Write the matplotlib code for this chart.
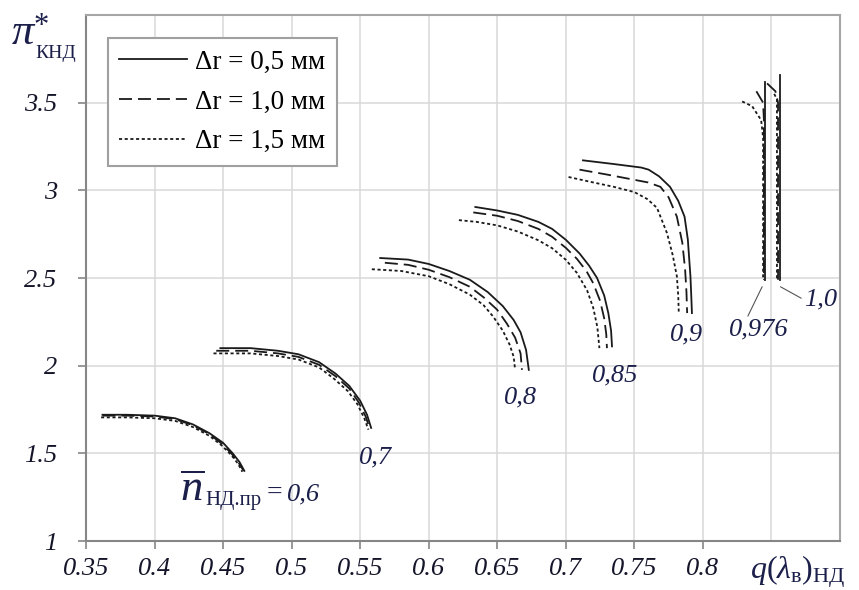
import matplotlib
matplotlib.use('Agg')
import matplotlib.pyplot as plt

plt.rcParams['mathtext.fontset'] = 'custom'
plt.rcParams['mathtext.rm'] = 'Liberation Serif'
plt.rcParams['mathtext.it'] = 'Liberation Serif:italic'
plt.rcParams['mathtext.bf'] = 'Liberation Serif:bold'

# Δr legend labels and speed labels (n НД.пр)
dr_labels = ['Δr = 0,5 мм', 'Δr = 1,0 мм', 'Δr = 1,5 мм']
n_labels = ['0,6', '0,7', '0,8', '0,85', '0,9', '0,976', '1,0']

# q(λв)НД / π*КНД, one list per speed line
q_dr05 = [
    [0.362, 0.380, 0.400, 0.415, 0.428, 0.440, 0.450, 0.457, 0.462, 0.4655],
    [0.448, 0.470, 0.490, 0.505, 0.520, 0.532, 0.542, 0.550, 0.555, 0.558],
    [0.5646, 0.585, 0.600, 0.615, 0.630, 0.643, 0.654, 0.662, 0.667, 0.671, 0.673],
    [0.634, 0.650, 0.665, 0.680, 0.690, 0.700, 0.710, 0.717, 0.7228, 0.728, 0.731, 0.733, 0.7337],
    [0.7125, 0.735, 0.755, 0.7604, 0.768, 0.776, 0.782, 0.7866, 0.789, 0.7909, 0.7915, 0.792],
    [0.8456, 0.8456],
    [0.8561, 0.8561],
]
pi_dr05 = [
    [1.72, 1.72, 1.715, 1.70, 1.665, 1.615, 1.56, 1.50, 1.45, 1.40],
    [2.10, 2.10, 2.085, 2.065, 2.02, 1.955, 1.885, 1.80, 1.72, 1.645],
    [2.614, 2.605, 2.58, 2.54, 2.49, 2.42, 2.34, 2.26, 2.19, 2.09, 1.976],
    [2.905, 2.885, 2.86, 2.82, 2.78, 2.718, 2.64, 2.57, 2.50, 2.40, 2.30, 2.20, 2.11],
    [3.171, 3.15, 3.13, 3.118, 3.08, 3.02, 2.94, 2.85, 2.72, 2.51, 2.40, 2.30],
    [2.49, 3.62],
    [2.49, 3.66],
]

q_dr10 = [
    [0.362, 0.380, 0.400, 0.415, 0.428, 0.440, 0.449, 0.456, 0.461, 0.465],
    [0.445, 0.470, 0.490, 0.505, 0.520, 0.532, 0.542, 0.549, 0.554, 0.557],
    [0.568, 0.585, 0.600, 0.615, 0.630, 0.640, 0.6498, 0.657, 0.663, 0.667, 0.668],
    [0.6325, 0.650, 0.665, 0.680, 0.690, 0.700, 0.708, 0.715, 0.720, 0.725, 0.728, 0.7295, 0.730],
    [0.710, 0.730, 0.750, 0.760, 0.769, 0.775, 0.781, 0.785, 0.787, 0.788, 0.7885],
    [0.839, 0.8439, 0.8445, 0.8445],
    [0.8468, 0.8529, 0.8548, 0.8548],
]
pi_dr10 = [
    [1.715, 1.715, 1.71, 1.695, 1.66, 1.61, 1.555, 1.50, 1.45, 1.40],
    [2.085, 2.085, 2.07, 2.05, 2.005, 1.94, 1.87, 1.79, 1.71, 1.64],
    [2.587, 2.575, 2.547, 2.505, 2.45, 2.39, 2.32, 2.24, 2.16, 2.07, 1.976],
    [2.874, 2.855, 2.825, 2.78, 2.735, 2.672, 2.61, 2.54, 2.47, 2.37, 2.27, 2.18, 2.10],
    [3.118, 3.09, 3.06, 3.045, 3.02, 2.96, 2.85, 2.70, 2.55, 2.42, 2.30],
    [3.565, 3.50, 3.40, 2.49],
    [3.61, 3.565, 3.50, 2.49],
]

q_dr15 = [
    [0.361, 0.380, 0.400, 0.415, 0.428, 0.440, 0.449, 0.456, 0.461, 0.464],
    [0.443, 0.470, 0.490, 0.505, 0.520, 0.531, 0.541, 0.548, 0.553, 0.556],
    [0.5585, 0.580, 0.600, 0.615, 0.630, 0.640, 0.647, 0.654, 0.659, 0.662, 0.663],
    [0.622, 0.635, 0.650, 0.665, 0.680, 0.690, 0.700, 0.708, 0.7155, 0.720, 0.723, 0.7245],
    [0.702, 0.720, 0.735, 0.750, 0.7595, 0.7665, 0.7738, 0.778, 0.781, 0.782, 0.7824],
    [0.8286, 0.8359, 0.8425, 0.8439, 0.8439],
    [0.8520, 0.8540, 0.8540],
]
pi_dr15 = [
    [1.705, 1.705, 1.70, 1.685, 1.65, 1.60, 1.545, 1.49, 1.44, 1.395],
    [2.07, 2.07, 2.055, 2.035, 1.99, 1.925, 1.855, 1.78, 1.70, 1.635],
    [2.55, 2.54, 2.51, 2.465, 2.405, 2.345, 2.28, 2.20, 2.12, 2.05, 1.976],
    [2.83, 2.82, 2.80, 2.765, 2.715, 2.67, 2.604, 2.53, 2.43, 2.33, 2.22, 2.10],
    [3.076, 3.045, 3.02, 2.99, 2.95, 2.90, 2.756, 2.63, 2.51, 2.40, 2.30],
    [3.507, 3.48, 3.40, 3.30, 2.49],
    [3.55, 3.52, 2.49],
]

# where the n labels sit (q, π)
lbl_q = [None, 0.5609, 0.6668, 0.7361, 0.788, 0.8405, 0.8858]
lbl_pi = [None, 1.479, 1.816, 1.947, 2.176, 2.204, 2.376]

x_ticks = [0.35, 0.4, 0.45, 0.5, 0.55, 0.6, 0.65, 0.7, 0.75, 0.8, 0.85]
x_ticklabels = ['0.35', '0.4', '0.45', '0.5', '0.55', '0.6', '0.65', '0.7', '0.75', '0.8', '']
y_ticks = [1, 1.5, 2, 2.5, 3, 3.5, 4]
y_ticklabels = ['1', '1.5', '2', '2.5', '3', '3.5', '']

W, H = 859, 590
fig = plt.figure(figsize=(W / 100, H / 100), dpi=100)
ax = fig.add_axes([86 / W, 1 - 541 / H, (840 - 86) / W, (541 - 15) / H])

def px(x, y):
    # pixel position -> figure fraction
    return x / W, 1 - y / H

serif = 'Liberation Serif'
txt_col = '#1b1f4a'
line_col = '#1a1a1a'

styles = [
    dict(linestyle='-', linewidth=1.3),
    dict(linestyle=(0, (7.2, 3.3)), linewidth=1.3),
    dict(linestyle=(0, (1.7, 1.45)), linewidth=1.3),
]
all_q = [q_dr05, q_dr10, q_dr15]
all_pi = [pi_dr05, pi_dr10, pi_dr15]

for k in range(3):
    for i in range(len(n_labels)):
        ax.plot(all_q[k][i], all_pi[k][i], color=line_col,
                label=dr_labels[k] if i == 0 else None, **styles[k])

ax.set_xlim(0.35, 0.9)
ax.set_ylim(1, 4)
ax.set_xticks(x_ticks)
ax.set_xticklabels(x_ticklabels)
ax.set_yticks(y_ticks)
ax.set_yticklabels(y_ticklabels)
ax.xaxis.get_major_ticks()[-1].tick1line.set_visible(False)
ax.yaxis.get_major_ticks()[-1].tick1line.set_visible(False)
ax.grid(True, color='#d9d9d9', linewidth=1.1)
ax.set_axisbelow(True)
for lab in ax.get_xticklabels() + ax.get_yticklabels():
    lab.set_fontfamily(serif)
    lab.set_fontstyle('italic')
    lab.set_fontsize(19)
    lab.set_color('#15152a')
ax.tick_params(axis='both', direction='out', length=6, width=1.2, color='#868686')
ax.tick_params(axis='x', pad=6)
ax.tick_params(axis='y', pad=15)
for s in ['left', 'bottom']:
    ax.spines[s].set_color('#868686')
    ax.spines[s].set_linewidth(1.5)
for s in ['top', 'right']:
    ax.spines[s].set_color('#a6a6a6')
    ax.spines[s].set_linewidth(1.5)

leg = ax.legend(loc='upper left', bbox_to_anchor=(0.029, 0.956), borderaxespad=0,
                prop={'family': serif, 'size': 19.5}, handlelength=2.5, handletextpad=0.3,
                labelspacing=0.55, borderpad=0.42, fancybox=False, framealpha=1)
leg.get_frame().set_edgecolor('#a0a0a0')
leg.get_frame().set_linewidth(1.5)

# speed labels
for i in range(1, len(n_labels)):
    if n_labels[i] in ('0,976', '1,0'):
        continue
    ax.text(lbl_q[i], lbl_pi[i], n_labels[i], fontsize=19, family=serif, style='italic',
            color=txt_col, ha='center', va='center')

ax.annotate(n_labels[5], xy=(0.8432, 2.45), xytext=(lbl_q[5], lbl_pi[5]),
            fontsize=19, family=serif, style='italic', color=txt_col, ha='center', va='center',
            arrowprops=dict(arrowstyle='-', color='#555555', lw=0.8, shrinkA=0, shrinkB=0,
                            relpos=(0.3, 1.0)))
ax.annotate(n_labels[6], xy=(0.8566, 2.45), xytext=(lbl_q[6], lbl_pi[6]),
            fontsize=19, family=serif, style='italic', color=txt_col, ha='center', va='center',
            arrowprops=dict(arrowstyle='-', color='#555555', lw=0.8, shrinkA=0, shrinkB=0,
                            relpos=(0.0, 0.5)))

# n-bar label (first speed line)
fig.text(*px(180, 501), r'$\overline{n}$', fontsize=32, color=txt_col, va='baseline')
fig.text(*px(205, 505), 'НД.пр', fontsize=15, family=serif, color=txt_col, va='baseline')
fig.text(*px(267, 500), '=', fontsize=20, family=serif, color=txt_col, va='baseline')
fig.text(*px(287, 500), n_labels[0], fontsize=19, family=serif, style='italic',
         color=txt_col, va='baseline')

# y axis title
fig.text(*px(12, 44), 'π', fontsize=32, family=serif, style='italic', color=txt_col, va='baseline')
fig.text(*px(34, 34), '*', fontsize=22, family=serif, color=txt_col, va='baseline')
fig.text(*px(35, 58), 'КНД', fontsize=14, family=serif, color=txt_col, va='baseline')

# x axis title
fig.text(*px(750, 579), r'$q(\lambda_{\mathrm{в}})_{\mathrm{НД}}$', fontsize=23, color=txt_col,
         va='baseline')

fig.savefig('out.png', dpi=100)
